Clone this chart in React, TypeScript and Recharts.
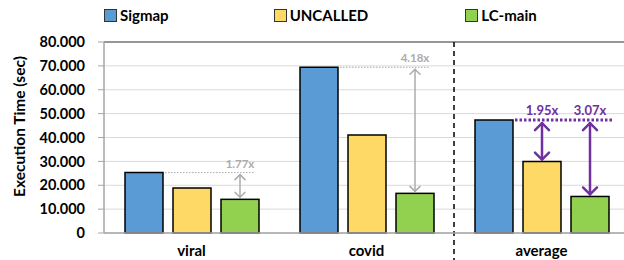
import React from "react";
import {
  BarChart, Bar, XAxis, YAxis, CartesianGrid, ReferenceLine,
} from "recharts";

const categories = ["viral", "covid", "average"];
const sigmapTime = [25.3, 69.4, 47.3];
const uncalledTime = [18.8, 41.0, 29.9];
const lcMainTime = [14.1, 16.6, 15.3];
// speedup labels: LC-main vs Sigmap, UNCALLED vs Sigmap (only on average)
const lcSpeedup = ["1.77x", "4.18x", "3.07x"];
const uncalledSpeedup = ["", "", "1.95x"];
const highlighted = [false, false, true];
const yTicks = [0, 10, 20, 30, 40, 50, 60, 70, 80];

const SERIES = [
  { key: "sigmap", name: "Sigmap", color: "#5B9BD5" },
  { key: "uncalled", name: "UNCALLED", color: "#FFD966" },
  { key: "lc", name: "LC-main", color: "#92D050" },
];

const FONT = "Lato, 'Liberation Sans', sans-serif";
const BAR_SIZE = 38;
const BAR_GAP = 10;
const GRAY = "#ABABAB";
const PURPLE = "#7030A0";

const rows = categories.map((c, i) => ({
  name: c,
  sigmap: sigmapTime[i],
  uncalled: uncalledTime[i],
  lc: lcMainTime[i],
  lcLabel: lcSpeedup[i],
  uncLabel: uncalledSpeedup[i],
  hot: highlighted[i],
}));

// 両端矢印（開いたV字の矢じり）
function Arrow({ x, top, bottom, color, w, head }: any) {
  return (
    <g stroke={color} strokeWidth={w} fill="none" strokeLinecap="round" strokeLinejoin="round">
      <line x1={x} x2={x} y1={top} y2={bottom} />
      <polyline points={`${x - head},${top + head} ${x},${top} ${x + head},${top + head}`} />
      <polyline points={`${x - head},${bottom - head} ${x},${bottom} ${x + head},${bottom - head}`} />
    </g>
  );
}

// LC-main のバー + スピードアップ注記
function LcShape(props: any) {
  const { x, y, width, height, payload, fill } = props;
  const base = y + height;
  const k = height / payload.lc;
  const step = width + BAR_GAP;
  const sigY = base - payload.sigmap * k;
  const uncY = base - payload.uncalled * k;
  const cx = x + width / 2;
  const ux = cx - step;
  const hot = payload.hot;
  const color = hot ? PURPLE : GRAY;
  const lw = hot ? 2.5 : 1.5;
  const head = hot ? 7 : 5;
  const fs = hot ? 13 : 11.5;
  return (
    <g>
      <rect x={x} y={y} width={width} height={height} fill={fill} stroke="#000" strokeWidth={1.5} />
      <line
        x1={x - 2 * step + width + 2}
        x2={x + width + (hot ? 4 : -4)}
        y1={sigY}
        y2={sigY}
        stroke={color}
        strokeWidth={hot ? 3 : 1}
        strokeDasharray={hot ? "2.5 2" : "1.5 1.5"}
      />
      <Arrow x={cx} top={sigY + (hot ? 3 : 2)} bottom={y - 2} color={color} w={lw} head={head} />
      <text x={cx} y={sigY - 5} textAnchor="middle" fill={color} fontSize={fs} fontWeight="bold" fontFamily={FONT}>
        {payload.lcLabel}
      </text>
      {payload.uncLabel && (
        <g>
          <Arrow x={ux} top={sigY + 3} bottom={uncY - 2} color={color} w={lw} head={head} />
          <text x={ux} y={sigY - 5} textAnchor="middle" fill={color} fontSize={fs} fontWeight="bold" fontFamily={FONT}>
            {payload.uncLabel}
          </text>
        </g>
      )}
    </g>
  );
}

const TICK_STYLE = { fill: "#000", fontSize: 14.5, fontWeight: "bold", fontFamily: FONT };

export default function App() {
  return (
    <div style={{ position: "absolute", left: 0, top: 0, width: 624, height: 260, overflow: "hidden", background: "#fff", fontFamily: FONT }}>
      {/* 凡例 */}
      <div style={{ position: "absolute", left: 104, top: 6, width: 520, display: "flex", fontSize: 15, fontWeight: "bold", color: "#000", whiteSpace: "nowrap" }}>
        {SERIES.map((s, i) => (
          <span key={s.key} style={{ display: "flex", alignItems: "center", flexShrink: 0, marginRight: i === 0 ? 105 : 97 }}>
            <span style={{ display: "inline-block", width: 11, height: 11, background: s.color, border: "1px solid #333", marginRight: 3 }} />
            {s.name}
          </span>
        ))}
      </div>

      <BarChart
        width={629}
        height={260}
        data={rows}
        margin={{ top: 42, right: 0, left: 0, bottom: 0 }}
        barGap={BAR_GAP}
        style={{ position: "absolute", left: 0, top: 0 }}
      >
        <CartesianGrid horizontal vertical={false} stroke="#D9D9D9" />
        <ReferenceLine y={80} stroke="#404040" strokeWidth={1} />
        <XAxis
          dataKey="name"
          height={27}
          tickSize={0}
          tickMargin={12}
          axisLine={{ stroke: "#A6A6A6", strokeWidth: 1.5 }}
          tick={{ ...TICK_STYLE, fontSize: 15 }}
        />
        <YAxis
          width={104}
          domain={[0, 80]}
          ticks={yTicks}
          interval={0}
          tickFormatter={(v: number) => (v === 0 ? "0" : v.toFixed(3))}
          tick={TICK_STYLE}
          tickSize={6}
          tickMargin={13}
          axisLine={{ stroke: "#A6A6A6", strokeWidth: 1.5 }}
          tickLine={{ stroke: "#A6A6A6" }}
          label={{
            content: ({ viewBox }: any) => (
              <text
                x={19}
                y={viewBox.y + viewBox.height / 2 - 11}
                transform={`rotate(-90, 19, ${viewBox.y + viewBox.height / 2 - 11})`}
                textAnchor="middle"
                dominantBaseline="central"
                fontSize={15.5}
                fontWeight="bold"
                fontFamily={FONT}
                fill="#000"
              >
                Execution Time (sec)
              </text>
            ),
          }}
        />
        <Bar dataKey="sigmap" name="Sigmap" fill="#5B9BD5" stroke="#000" strokeWidth={1.5} barSize={BAR_SIZE} isAnimationActive={false} />
        <Bar dataKey="uncalled" name="UNCALLED" fill="#FFD966" stroke="#000" strokeWidth={1.5} barSize={BAR_SIZE} isAnimationActive={false} />
        <Bar dataKey="lc" name="LC-main" fill="#92D050" barSize={BAR_SIZE} shape={<LcShape />} isAnimationActive={false} />
        {/* 平均とそれ以外の区切り */}
        <ReferenceLine
          x="average"
          position="start"
          ifOverflow="visible"
          shape={(p: any) => (
            <line
              x1={p.x1}
              x2={p.x2}
              y1={Math.min(p.y1, p.y2)}
              y2={Math.max(p.y1, p.y2) + 27}
              stroke="#000"
              strokeWidth={1.5}
              strokeDasharray="5 4"
            />
          )}
        />
      </BarChart>
    </div>
  );
}
